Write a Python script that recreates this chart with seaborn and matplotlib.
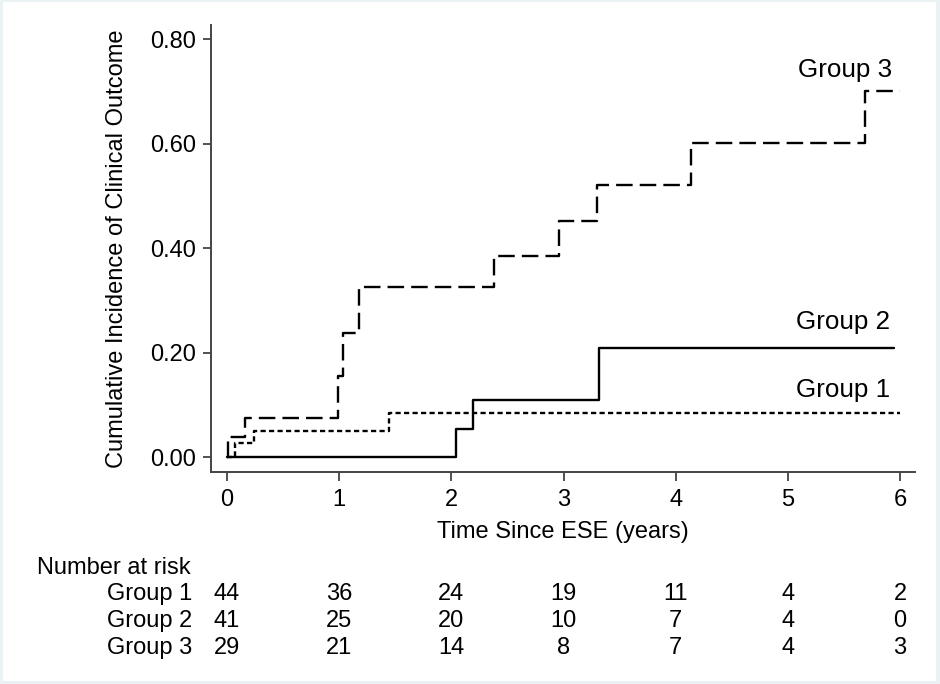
import numpy as np
import pandas as pd
import matplotlib
matplotlib.use('Agg')
import matplotlib.pyplot as plt
import matplotlib.transforms as mtransforms
from matplotlib.patches import Rectangle
import seaborn as sns

# 累积发生率
group1_time = [0.0, 0.07, 0.24, 1.44, 6.0]
group1_cuminc = [0.0, 0.026, 0.050, 0.084, 0.084]

group2_time = [0.0, 2.04, 2.19, 3.32, 5.95]
group2_cuminc = [0.0, 0.054, 0.109, 0.209, 0.209]

group3_time = [0.0, 0.005, 0.16, 0.985, 1.03, 1.18, 2.38, 2.96, 3.30, 4.14, 5.69, 6.0]
group3_cuminc = [0.0, 0.038, 0.075, 0.155, 0.237, 0.326, 0.384, 0.452, 0.520, 0.602, 0.700, 0.700]

groups = ['Group 1', 'Group 2', 'Group 3']

# 风险人数表
risk_times = [0, 1, 2, 3, 4, 5, 6]
risk_group1 = [44, 36, 24, 19, 11, 4, 2]
risk_group2 = [41, 25, 20, 10, 7, 4, 0]
risk_group3 = [29, 21, 14, 8, 7, 4, 3]

x_ticks = [0, 1, 2, 3, 4, 5, 6]
y_ticks = [0.0, 0.2, 0.4, 0.6, 0.8]

df = pd.concat([
    pd.DataFrame({'time': group1_time, 'cuminc': group1_cuminc, 'group': 'Group 1'}),
    pd.DataFrame({'time': group2_time, 'cuminc': group2_cuminc, 'group': 'Group 2'}),
    pd.DataFrame({'time': group3_time, 'cuminc': group3_cuminc, 'group': 'Group 3'}),
], ignore_index=True)

sns.set_theme(style='ticks')
plt.rcParams['font.family'] = ['Liberation Sans', 'DejaVu Sans']
plt.rcParams['axes.linewidth'] = 1.4
plt.rcParams['text.color'] = 'black'
plt.rcParams['axes.labelcolor'] = 'black'
plt.rcParams['xtick.labelcolor'] = 'black'
plt.rcParams['ytick.labelcolor'] = 'black'

FS = 17

fig = plt.figure(figsize=(9.4, 6.84), dpi=100)
fig.patch.set_facecolor('#eaf2f3')
fig.patches.append(Rectangle((3 / 940, 3 / 684), 933 / 940, 679 / 684,
                             transform=fig.transFigure, facecolor='white',
                             edgecolor='none', zorder=-10))

ax = fig.add_axes([211 / 940, 1 - 472 / 684, 704 / 940, 447 / 684])
ax.set_facecolor('none')

sns.lineplot(data=df, x='time', y='cuminc', hue='group', style='group',
             palette={'Group 1': 'black', 'Group 2': 'black', 'Group 3': 'black'},
             dashes={'Group 1': (2.2, 1.4), 'Group 2': '', 'Group 3': (7.0, 3.0)},
             estimator=None, sort=False, drawstyle='steps-post',
             linewidth=1.7, legend=False, ax=ax)

ax.set_xlim(-0.143, 6.134)
ax.set_ylim(-0.0287, 0.827)
ax.set_xticks(x_ticks)
ax.set_yticks(y_ticks)
ax.set_yticklabels([f'{v:.2f}' for v in y_ticks])
ax.tick_params(axis='x', length=6.5, width=1.2, pad=6, labelsize=FS, color='#333333')
ax.tick_params(axis='y', length=5.5, width=1.2, pad=5, labelsize=FS, color='#333333')
for side in ['left', 'bottom']:
    ax.spines[side].set_color('#444444')
sns.despine(ax=ax)

ax.set_xlabel('Time Since ESE (years)', fontsize=FS, labelpad=7)
ax.set_ylabel('Cumulative Incidence of Clinical Outcome', fontsize=FS)
ax.yaxis.set_label_coords(-0.118, 0.5)

# 曲线标签
ax.text(5.51, 0.741, 'Group 3', fontsize=18.7, ha='center', va='center')
ax.text(5.49, 0.259, 'Group 2', fontsize=18.7, ha='center', va='center')
ax.text(5.49, 0.128, 'Group 1', fontsize=18.7, ha='center', va='center')

# 风险人数表
trans = mtransforms.blended_transform_factory(ax.transData, fig.transFigure)
fig.text(37 / 940, 1 - 568 / 684, 'Number at risk', fontsize=FS, ha='left', va='center')
rows = [risk_group1, risk_group2, risk_group3]
row_y = [594, 621, 648]
for name, counts, yy in zip(groups, rows, row_y):
    fig.text(192 / 940, 1 - yy / 684, name, fontsize=FS, ha='right', va='center')
    for t, n in zip(risk_times, counts):
        ax.text(t, 1 - yy / 684, str(n), fontsize=FS, ha='center', va='center',
                transform=trans, clip_on=False)

fig.savefig('out.png', dpi=100, facecolor=fig.get_facecolor())
